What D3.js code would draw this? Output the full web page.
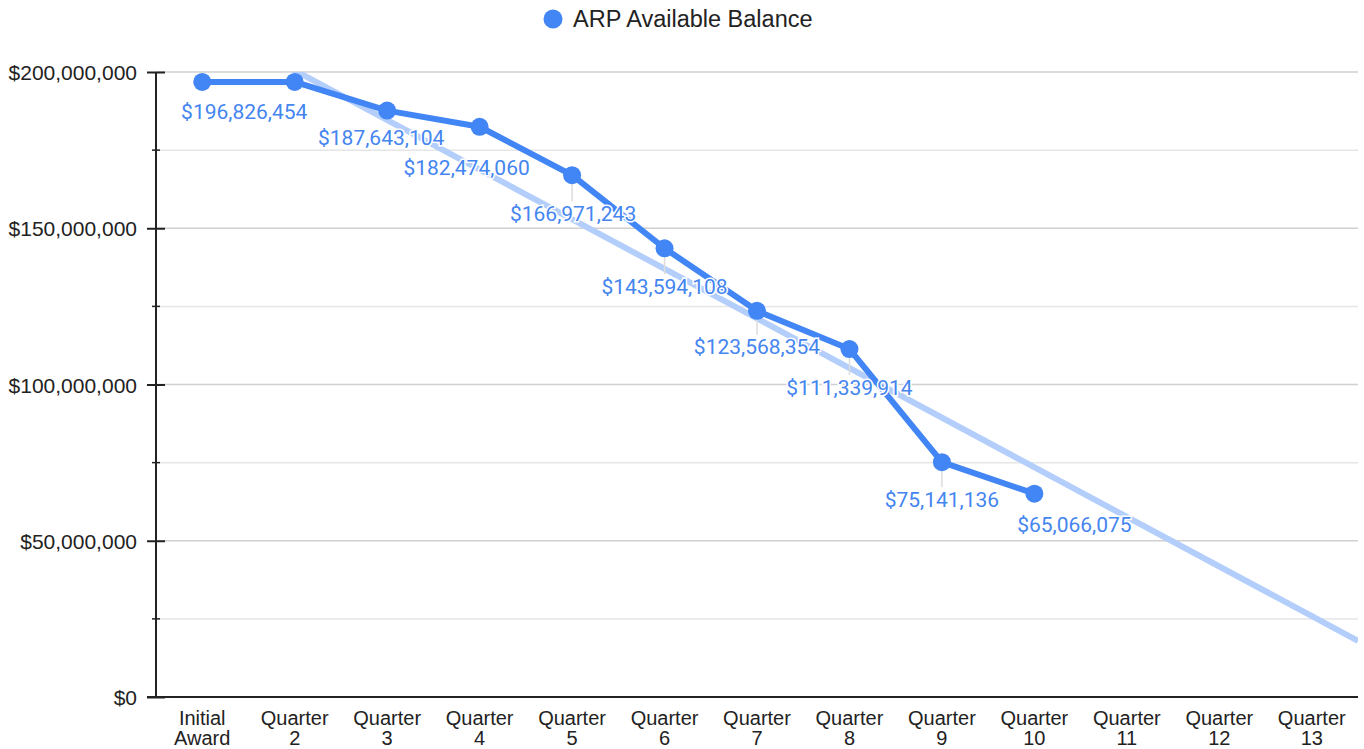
<!DOCTYPE html>
<html>
<head>
<meta charset="utf-8">
<script src="https://cdn.jsdelivr.net/npm/d3@7"></script>
<style>
  body { margin: 0; background: white; }
  svg { display: block; }
</style>
</head>
<body>
<div id="chart"></div>
<script>
// Categories shown on the x axis
const categories = ["Initial Award", "Quarter 2", "Quarter 3", "Quarter 4", "Quarter 5", "Quarter 6",
    "Quarter 7", "Quarter 8", "Quarter 9", "Quarter 10", "Quarter 11", "Quarter 12", "Quarter 13"];

// ARP available balance, one per reported quarter
const balance = [196826454, 196826454, 187643104, 182474060, 166971243, 143594108,
    123568354, 111339914, 75141136, 65066075];

const seriesName = "ARP Available Balance";
const yTicks = [0, 50000000, 100000000, 150000000, 200000000];
const yMinorTicks = [25000000, 75000000, 125000000, 175000000];

// Where the value labels sit relative to their point (null = hidden, collided)
const labelShift = [[42, 30], null, [-6, 27], [-13, 41], [1, 38], [0, 38], [0, 36], [0, 38], [0, 37], [40, 31]];

const blue = "#4285f4";
const trendBlue = "#b3cefb";

const W = 1364, H = 749;
const plotL = 156, plotR = 1358, plotT = 72, plotB = 697;

const svg = d3.select("#chart").append("svg").attr("width", W).attr("height", H);

const x = d3.scalePoint().domain(categories).range([plotL, plotR]).padding(0.5);
const y = d3.scaleLinear().domain([0, 200000000]).range([plotB, plotT]);
const step = x.step();
const xi = i => x(categories[0]) + i * step;

// gridlines
svg.append("g").selectAll("line").data(yMinorTicks).enter().append("line")
    .attr("x1", plotL).attr("x2", plotR).attr("y1", d => y(d)).attr("y2", d => y(d))
    .attr("stroke", "#e6e6e6").attr("stroke-width", 1.5);
svg.append("g").selectAll("line").data(yTicks.filter(d => d > 0)).enter().append("line")
    .attr("x1", plotL).attr("x2", plotR).attr("y1", d => y(d)).attr("y2", d => y(d))
    .attr("stroke", "#d0d0d0").attr("stroke-width", 1.5);

// y axis
const yAxis = svg.append("g").attr("transform", `translate(${plotL},0)`)
    .call(d3.axisLeft(y).tickValues(yTicks).tickFormat(d3.format("$,")).tickSize(0).tickPadding(19));
yAxis.select(".domain").remove();
yAxis.selectAll("text").attr("font-family", "'Liberation Sans', Arial, sans-serif")
    .attr("font-size", 21).attr("fill", "#222").attr("dy", "0.36em");
yAxis.selectAll(".tick line").attr("x1", -9).attr("x2", 9).attr("stroke", "#222").attr("stroke-width", 2);
yAxis.append("g").selectAll("line").data(yMinorTicks).enter().append("line")
    .attr("x1", -4).attr("x2", 4).attr("y1", d => y(d)).attr("y2", d => y(d))
    .attr("stroke", "#222").attr("stroke-width", 1.5);
yAxis.append("line").attr("x1", 0).attr("x2", 0).attr("y1", plotT).attr("y2", plotB)
    .attr("stroke", "#222").attr("stroke-width", 2);

// baseline
svg.append("line").attr("x1", plotL - 9).attr("x2", plotR).attr("y1", plotB).attr("y2", plotB)
    .attr("stroke", "#222").attr("stroke-width", 2);

// x axis labels (wrapped on two lines)
const xl = svg.append("g").selectAll("text").data(categories).enter().append("text")
    .attr("text-anchor", "middle").attr("font-family", "'Liberation Sans', Arial, sans-serif")
    .attr("font-size", 20).attr("fill", "#222");
xl.each(function(d) {
    const words = d.split(" ");
    d3.select(this).selectAll("tspan").data(words).enter().append("tspan")
        .attr("x", x(d)).attr("y", (w, i) => 725 + i * 20).text(w => w);
});

// trendline: least squares fit over the reported quarters
const idx = balance.map((d, i) => i);
const mx = d3.mean(idx), my = d3.mean(balance);
const slope = d3.sum(idx, i => (i - mx) * (balance[i] - my)) / d3.sum(idx, i => (i - mx) * (i - mx));
const icpt = my - slope * mx;
svg.append("clipPath").attr("id", "plot").append("rect")
    .attr("x", plotL).attr("y", plotT).attr("width", plotR - plotL).attr("height", plotB - plotT);
svg.append("line").attr("clip-path", "url(#plot)")
    .attr("x1", xi(-0.5)).attr("y1", y(icpt + slope * -0.5))
    .attr("x2", xi(categories.length - 0.5)).attr("y2", y(icpt + slope * (categories.length - 0.5)))
    .attr("stroke", trendBlue).attr("stroke-width", 6);

// leader lines for labels pushed away from their point
svg.append("g").selectAll("line").data(balance.map((v, i) => ({ v, i, s: labelShift[i] }))
        .filter(d => d.s && Math.abs(d.s[0]) < 5 && d.s[1] > 33))
    .enter().append("line")
    .attr("x1", d => xi(d.i)).attr("x2", d => xi(d.i))
    .attr("y1", d => y(d.v) + 8).attr("y2", d => y(d.v) + d.s[1] - 12)
    .attr("stroke", "#dcdcdc").attr("stroke-width", 1.5);

// series line and points
svg.append("path").datum(balance)
    .attr("d", d3.line().x((d, i) => xi(i)).y(d => y(d)))
    .attr("fill", "none").attr("stroke", blue).attr("stroke-width", 6).attr("stroke-linejoin", "round");
svg.append("g").selectAll("circle").data(balance).enter().append("circle")
    .attr("cx", (d, i) => xi(i)).attr("cy", d => y(d)).attr("r", 9).attr("fill", blue);

// value labels
svg.append("g").selectAll("text").data(balance.map((v, i) => ({ v, i, s: labelShift[i] })).filter(d => d.s))
    .enter().append("text")
    .attr("x", d => xi(d.i) + d.s[0]).attr("y", d => y(d.v) + d.s[1]).attr("dy", "0.36em")
    .attr("text-anchor", "middle").attr("font-family", "Roboto, sans-serif").attr("font-size", 21)
    .attr("fill", "#4485f0").attr("stroke", "white").attr("stroke-width", 3).attr("paint-order", "stroke")
    .text(d => d3.format("$,")(d.v));

// legend
const lg = svg.append("g");
lg.append("circle").attr("cx", 553).attr("cy", 19).attr("r", 9.5).attr("fill", blue);
lg.append("text").attr("x", 573).attr("y", 19).attr("dy", "0.36em")
    .attr("font-family", "'Liberation Sans', Arial, sans-serif").attr("font-size", 23.5).attr("fill", "#222")
    .text(seriesName);
</script>
</body>
</html>
